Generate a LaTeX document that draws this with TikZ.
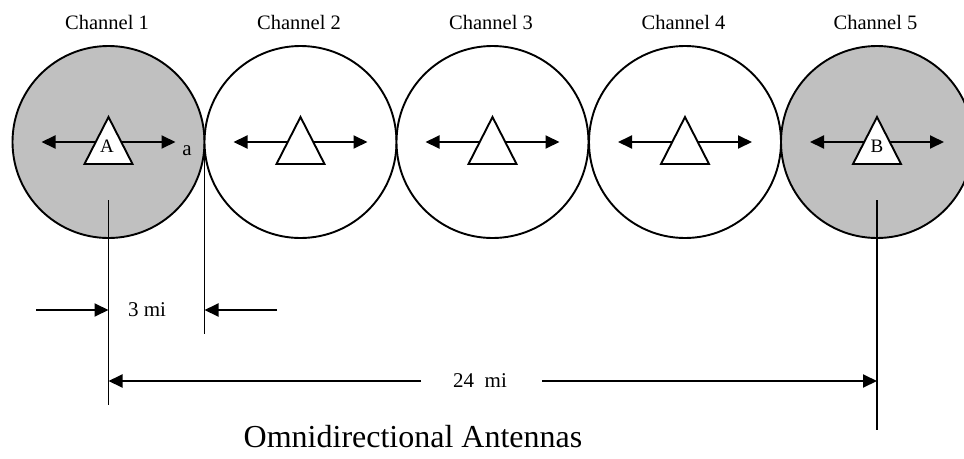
\documentclass[tikz,border=0pt]{standalone}
\usepackage{fontspec}
\setmainfont{Liberation Serif}
\usetikzlibrary{arrows.meta}
\definecolor{cellgray}{RGB}{192,192,192}
\begin{document}
\begin{tikzpicture}[x=1pt,y=-1pt,
  cell/.style={draw, line width=1.9pt, circle, minimum size=192pt, inner sep=0pt},
  grey/.style={fill=cellgray},
  white/.style={fill=white},
  ant/.style={draw, line width=1.9pt, fill=white, line join=miter},
  bi/.style={line width=1.9pt, {Triangle[length=14pt,width=13pt]}-{Triangle[length=14pt,width=13pt]}},
  dim/.style={line width=1.9pt, -{Triangle[length=14pt,width=13pt]}},
  dimline/.style={line width=1.9pt},
  chlab/.style={font=\fontsize{20.5}{24}\selectfont},
  lab/.style={font=\fontsize{21}{24}\selectfont, inner sep=0pt},
  antlab/.style={font=\fontsize{19}{22}\selectfont, inner sep=0pt},
]
\useasboundingbox (0,0) rectangle (964,458);
\clip (0,0) rectangle (964,458);
% circles
\foreach \i/\x/\s in {1/108.5/grey,2/300.5/white,3/492.5/white,4/685/white,5/877/grey}{
  \node[cell,\s] (c\i) at (\x,142) {};
  \node[chlab] (ch\i) at (\x-1.5,22) {Channel \i};
  \coordinate (l\i) at (\x-67,142);
  \coordinate (r\i) at (\x+67,142);
  \draw[bi] (l\i) -- (r\i);
  \draw[ant] (\x,117) -- (\x+24,164) -- (\x-24,164) -- cycle;
}
\node[antlab] (A) at (107,146) {A};
\node[antlab] (B) at (877,146) {B};
\node[lab] (a) at (187,151) {a};
% dimension lines
\coordinate (vA1) at (108.5,200);
\coordinate (vA2) at (108.5,405);
\coordinate (vM1) at (204.5,150);
\coordinate (vM2) at (204.5,334);
\coordinate (vB1) at (877,200);
\coordinate (vB2) at (877,430);
\draw[dimline] (vA1) -- (vA2);
\draw[dimline] (vM1) -- (vM2);
\draw[dimline] (vB1) -- (vB2);
% 3 mi
\coordinate (t1) at (36,310);
\coordinate (t2) at (108.5,310);
\coordinate (t3) at (277,310);
\coordinate (t4) at (204.5,310);
\draw[dim] (t1) -- (t2);
\draw[dim] (t3) -- (t4);
\node[lab] (three) at (147,310) {3 mi};
% 24 mi
\node[lab] (tf) at (480,381) {24\ \ mi};
\coordinate (f1) at (108.5,381);
\coordinate (f2) at (877,381);
\coordinate (g1) at (421,381);
\coordinate (g2) at (542,381);
\draw[dim] (g1) -- (f1);
\draw[dim] (g2) -- (f2);
\node[font=\fontsize{32}{38}\selectfont, inner sep=0pt] (title) at (413,437) {Omnidirectional Antennas};
\end{tikzpicture}
\end{document}
